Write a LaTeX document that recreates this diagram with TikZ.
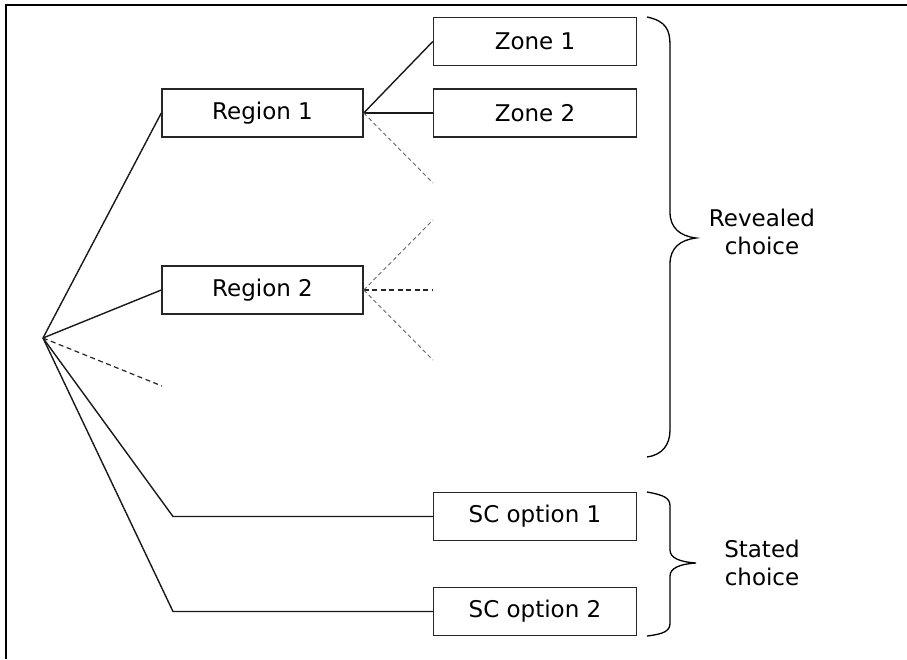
\documentclass[tikz,border=0pt]{standalone}
\usepackage{fontspec}
\setmainfont{DejaVu Sans}
\begin{document}
\begin{tikzpicture}[x=1pt,y=-1pt,
  optbox/.style={draw=black!85, line width=1.4pt, rectangle, minimum width=#1, minimum height=48pt, inner sep=0pt, font=\fontsize{23}{28}\selectfont},
  optbox/.default=203pt,
  solidline/.style={draw=black!90, line width=1.4pt},
  darkdash/.style={draw=black!85, line width=1.2pt, dash pattern=on 5pt off 3.5pt},
  lightdash/.style={draw=black!60, line width=0.9pt, dash pattern=on 4pt off 3pt},
  bracepath/.style={draw=black, line width=1.3pt},
  bracelabel/.style={align=center, font=\fontsize{23}{28}\selectfont, inner sep=0pt}]
\useasboundingbox (0,0) rectangle (907,659);
% frame
\draw[line width=2.2pt] (6,659) -- (6,5) -- (907,5);
% nodes
\coordinate (root) at (43,338);
\node[optbox=201pt] (r1) at (262.5,113) {Region 1};
\node[optbox=201pt] (r2) at (262.5,290) {Region 2};
\node[optbox] (z1) at (535,41.5) {Zone 1};
\node[optbox] (z2) at (535,113) {Zone 2};
\node[optbox] (sc1) at (535,516.5) {SC option 1};
\node[optbox] (sc2) at (535,611.5) {SC option 2};
% free ends and bends
\coordinate (rootd) at (162,386);
\coordinate (b1) at (173,516.5);
\coordinate (b2) at (173,611.5);
\coordinate (r1d) at (433,183);
\coordinate (r2a) at (433,220);
\coordinate (r2b) at (433,290);
\coordinate (r2c) at (433,360);
% connectors
\draw[solidline] (root) -- (r1.west);
\draw[solidline] (root) -- (r2.west);
\draw[darkdash] (root) -- (rootd);
\draw[solidline] (root) -- (b1) -- (sc1.west);
\draw[solidline] (root) -- (b2) -- (sc2.west);
\draw[solidline] (r1.east) -- (z1.west);
\draw[solidline] (r1.east) -- (z2.west);
\draw[lightdash] (r1.east) -- (r1d);
\draw[lightdash] (r2.east) -- (r2a);
\draw[darkdash] (r2.east) -- (r2b);
\draw[lightdash] (r2.east) -- (r2c);
% braces
\draw[bracepath] (647,17) .. controls (666,21) and (670,30) .. (670,45)
  -- (670,212) .. controls (670,228) and (680,236) .. (696,238)
  .. controls (680,240) and (670,248) .. (670,264)
  -- (670,430) .. controls (670,445) and (662,455) .. (647,457);
\draw[bracepath] (647,492) .. controls (664,495) and (670,498) .. (670,506)
  -- (670,550) .. controls (670,558) and (680,562) .. (696,563)
  .. controls (680,564) and (670,568) .. (670,576)
  -- (670,623) .. controls (670,631) and (664,634) .. (647,636);
\node[bracelabel] (rc) at (762,232) {Revealed\\choice};
\node[bracelabel] (stc) at (762,563) {Stated\\choice};
\end{tikzpicture}
\end{document}
